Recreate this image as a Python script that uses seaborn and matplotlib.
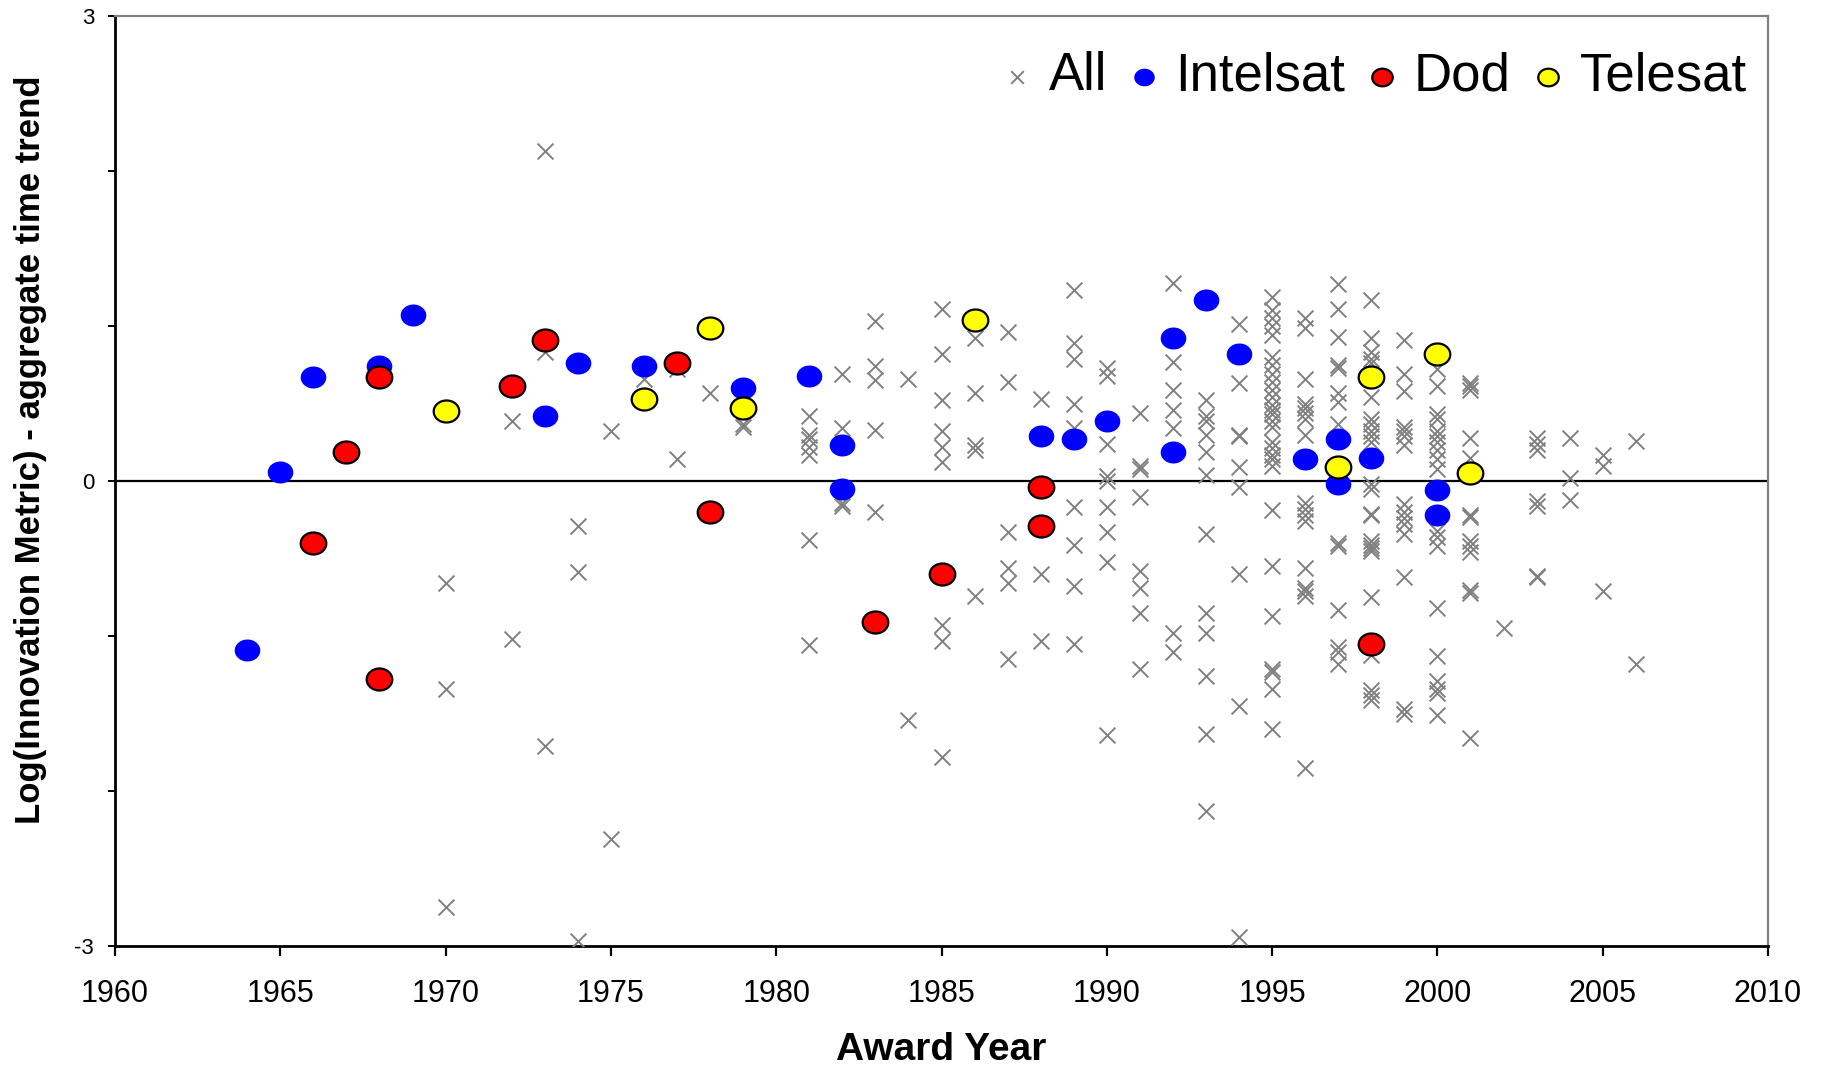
import seaborn as sns
import matplotlib.pyplot as plt
import numpy as np
import pandas as pd
from matplotlib.path import Path

# gray x points ("All"), grouped by award year
all_years = [1970, 1972, 1973, 1974, 1975, 1976, 1977, 1978, 1979, 1981,
             1982, 1983, 1984, 1985, 1986, 1987, 1988, 1989, 1990, 1991,
             1992, 1993, 1994, 1995, 1996, 1997, 1998, 1999, 2000, 2001,
             2002, 2003, 2004, 2005, 2006]
all_values = [
    [-0.66, -1.34, -2.75],
    [0.39, -1.02],
    [2.13, 0.83, -1.71],
    [-0.29, -0.59, -2.97],
    [0.32, -2.31],
    [0.66],
    [0.72, 0.14],
    [0.57],
    [0.37, 0.35],
    [0.42, 0.30, 0.27, 0.22, 0.17, -0.38, -1.06],
    [0.69, 0.34, -0.14, -0.16],
    [1.03, 0.74, 0.65, 0.33, -0.20],
    [0.66, -1.54],
    [1.11, 0.82, 0.52, 0.32, 0.22, 0.12, -0.93, -1.03, -1.78],
    [0.92, 0.57, 0.23, 0.20, -0.74],
    [0.96, 0.64, -0.33, -0.56, -0.66, -1.15],
    [0.53, -0.60, -1.03],
    [1.23, 0.89, 0.79, 0.50, 0.34, -0.17, -0.41, -0.68, -1.05],
    [0.73, 0.68, 0.24, 0.03, 0.0, -0.17, -0.33, -0.52, -1.64],
    [0.44, 0.10, 0.08, -0.10, -0.58, -0.69, -0.85, -1.21],
    [1.28, 0.77, 0.59, 0.46, 0.34, -0.98, -1.10],
    [0.52, 0.42, 0.39, 0.30, 0.19, 0.04, -0.34, -0.85, -0.98, -1.26,
     -1.63, -2.13],
    [1.01, 0.63, 0.30, 0.29, 0.09, -0.04, -0.60, -1.45, -2.94],
    [1.19, 1.10, 1.05, 1.00, 0.94, 0.80, 0.75, 0.69, 0.64, 0.59, 0.54,
     0.49, 0.46, 0.43, 0.39, 0.35, 0.25, 0.21, 0.17, 0.14, 0.10, -0.19,
     -0.55, -0.87, -1.21, -1.23, -1.34, -1.60],
    [1.05, 0.99, 0.66, 0.50, 0.47, 0.44, 0.40, 0.30, -0.14, -0.18, -0.22,
     -0.26, -0.56, -0.69, -0.71, -0.74, -1.85],
    [1.27, 1.11, 0.93, 0.75, 0.73, 0.57, 0.51, 0.37, -0.40, -0.42, -0.83,
     -1.07, -1.10, -1.18],
    [1.17, 0.92, 0.83, 0.79, 0.76, 0.54, 0.40, 0.37, 0.32, 0.29, 0.25,
     -0.02, -0.05, -0.21, -0.22, -0.39, -0.41, -0.43, -0.45, -0.75, -1.12,
     -1.35, -1.38, -1.41],
    [0.91, 0.69, 0.58, 0.35, 0.32, 0.29, 0.23, -0.15, -0.20, -0.24, -0.28,
     -0.34, -0.62, -1.47, -1.50],
    [0.72, 0.61, 0.43, 0.40, 0.32, 0.29, 0.25, 0.20, 0.14, 0.08, -0.32,
     -0.36, -0.42, -0.82, -1.13, -1.29, -1.34, -1.37, -1.51],
    [0.63, 0.61, 0.59, 0.28, 0.15, -0.22, -0.23, -0.39, -0.42, -0.46,
     -0.70, -0.72, -1.66],
    [-0.95],
    [0.28, 0.24, 0.20, -0.13, -0.16, -0.61, -0.62],
    [0.28, 0.02, -0.12],
    [0.17, 0.10, -0.71],
    [0.26, -1.18],
]

intelsat_year = [1964, 1965, 1966, 1968, 1969, 1973, 1974, 1976, 1979, 1981,
                 1982, 1982, 1988, 1989, 1990, 1992, 1992, 1993, 1994, 1996,
                 1997, 1997, 1998, 2000, 2000]
intelsat_value = [-1.09, 0.06, 0.67, 0.74, 1.07, 0.42, 0.76, 0.74, 0.60, 0.68,
                  0.23, -0.05, 0.29, 0.27, 0.39, 0.92, 0.19, 1.17, 0.82, 0.14,
                  0.27, -0.02, 0.15, -0.06, -0.22]

dod_year = [1966, 1967, 1968, 1968, 1972, 1973, 1977, 1978, 1983, 1985,
            1988, 1988, 1998]
dod_value = [-0.40, 0.19, 0.67, -1.28, 0.61, 0.91, 0.76, -0.20, -0.91, -0.60,
             -0.04, -0.29, -1.05]

telesat_year = [1970, 1976, 1978, 1979, 1986, 1997, 1998, 2000, 2001]
telesat_value = [0.45, 0.53, 0.99, 0.47, 1.04, 0.09, 0.67, 0.82, 0.05]

df_all = pd.DataFrame({"year": all_years, "value": all_values}).explode("value")
df_all["value"] = df_all["value"].astype(float)
df_int = pd.DataFrame({"year": intelsat_year, "value": intelsat_value})
df_dod = pd.DataFrame({"year": dod_year, "value": dod_value})
df_tel = pd.DataFrame({"year": telesat_year, "value": telesat_value})

sns.set_style('white')
plt.rcParams['font.family'] = ['Liberation Sans', 'DejaVu Sans']
plt.rcParams.update({'text.color': 'black', 'axes.labelcolor': 'black',
                     'xtick.color': 'black', 'ytick.color': 'black'})

# slightly flattened circle, like the original markers
t = np.linspace(0, 2 * np.pi, 61)
oval = Path(np.column_stack([np.cos(t), 0.86 * np.sin(t)]), closed=True)

fig = plt.figure(figsize=(18.28, 10.65), dpi=100)
ax = fig.add_axes([0.0629, 0.1117, 0.9043, 0.8733])

sns.scatterplot(data=df_all, x="year", y="value", marker="x", color="#808080",
                s=130, linewidth=1.4, label="All", ax=ax, zorder=3)
sns.scatterplot(data=df_int, x="year", y="value", marker=oval, color="#0000FF",
                s=340, linewidth=0, label="Intelsat", ax=ax, zorder=4)
sns.scatterplot(data=df_dod, x="year", y="value", marker=oval, color="#FF0000",
                edgecolor="black", s=340, linewidth=1.6, label="Dod", ax=ax,
                zorder=5)
sns.scatterplot(data=df_tel, x="year", y="value", marker=oval, color="#FFFF00",
                edgecolor="black", s=340, linewidth=1.6, label="Telesat", ax=ax,
                zorder=6)

ax.axhline(0, color="black", lw=1.6, zorder=2)

ax.set_xlim(1960, 2010)
ax.set_ylim(-3, 3)
ax.set_xticks(range(1960, 2011, 5))
ax.set_yticks([-3, -2, -1, 0, 1, 2, 3])
ax.set_yticklabels(["-3", "", "", "0", "", "", "3"])
ax.tick_params(axis="x", labelsize=22, length=7, width=1.6, pad=17,
               direction="out", bottom=True)
ax.tick_params(axis="y", labelsize=16, length=5, width=1.4, pad=10,
               direction="out", left=True)

for side in ["left", "bottom"]:
    ax.spines[side].set_color("black")
    ax.spines[side].set_linewidth(2)
for side in ["top", "right"]:
    ax.spines[side].set_color("#808080")
    ax.spines[side].set_linewidth(1.6)

ax.set_xlabel("Award Year", fontsize=28, fontweight="bold")
ax.set_ylabel("Log(Innovation Metric) - aggregate time trend", fontsize=25,
              fontweight="bold")
ax.xaxis.set_label_coords(0.5, -0.092)
ax.yaxis.set_label_coords(-0.041, 0.534)

handles, labels = ax.get_legend_handles_labels()
ax.legend(handles, labels, loc="center right", bbox_to_anchor=(0.987, 0.935),
          ncol=4, frameon=False, fontsize=38, markerscale=0.8,
          handlelength=0.6, handletextpad=0.3, columnspacing=0.4,
          borderpad=0, borderaxespad=0)

fig.savefig("out.png", dpi=100)
